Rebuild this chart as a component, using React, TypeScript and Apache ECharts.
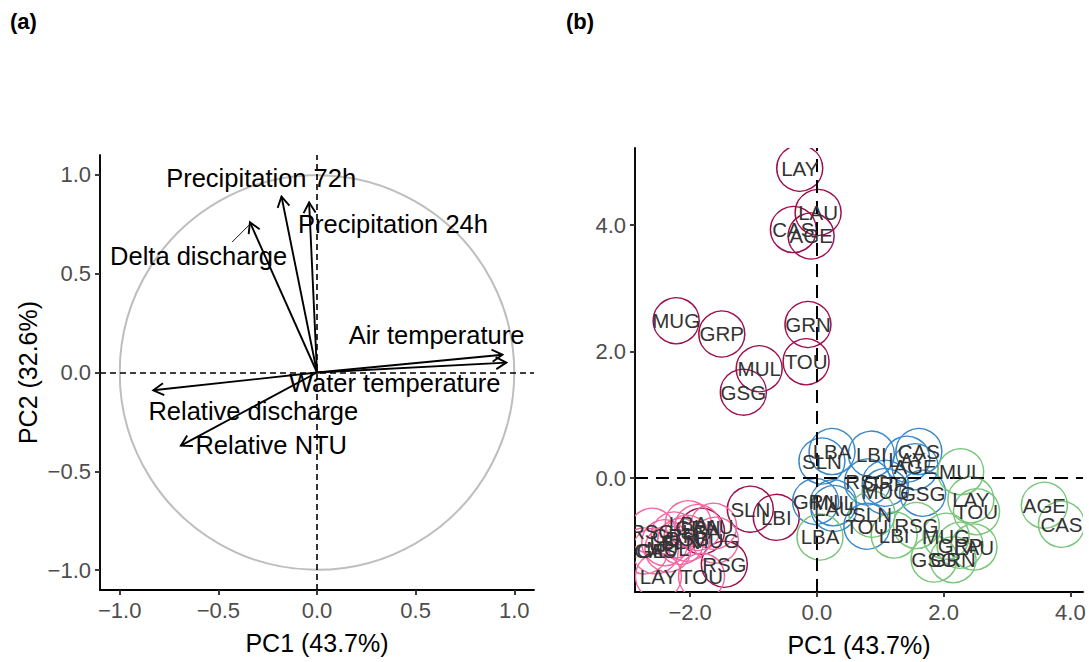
import React, { useEffect, useRef } from 'react';
import * as echarts from 'echarts';

const FONT = '"Liberation Sans", Arial, Helvetica, sans-serif';

// ---------- Panel (a): variable loadings ----------
const varNames = [
  'Precipitation 72h',
  'Precipitation 24h',
  'Delta discharge',
  'Air temperature',
  'Water temperature',
  'Relative discharge',
  'Relative NTU',
];
const varPC1 = [-0.18, -0.04, -0.34, 0.94, 0.96, -0.83, -0.69];
const varPC2 = [0.89, 0.86, 0.76, 0.09, 0.05, -0.09, -0.37];
// repelled label anchors (in PC units)
const varLabelPC1 = [-0.283, 0.385, -0.6, 0.606, 0.394, -0.323, -0.232];
const varLabelPC2 = [0.986, 0.75, 0.588, 0.19, -0.052, -0.193, -0.367];
// ggrepel connector for "Delta discharge"
const deltaSegPC1 = [-0.43, -0.345];
const deltaSegPC2 = [0.66, 0.745];

const ticksA = [-1, -0.5, 0, 0.5, 1];
const ticksBX = [-2, 0, 2, 4];
const ticksBY = [0, 2, 4];

// ---------- Panel (b): site scores by group ----------
const groupColors = ['#9E0F4E', '#3A88C8', '#78C679', '#F266A2'];

const sitesG1 = ['LAY', 'LAU', 'CAS', 'AGE', 'MUG', 'GRP', 'GRN', 'TOU', 'MUL', 'GSG', 'SLN', 'LBI', 'RSG', 'LBA'];
const pc1G1 = [-0.27, 0.02, -0.37, -0.09, -2.22, -1.5, -0.14, -0.17, -0.91, -1.16, -1.05, -0.64, -1.46, -1.82];
const pc2G1 = [4.9, 4.2, 3.93, 3.83, 2.49, 2.28, 2.43, 1.84, 1.73, 1.36, -0.49, -0.62, -1.36, -0.84];

const sitesG2 = ['SLN', 'LBA', 'LBI', 'CAS', 'LAY', 'AGE', 'RSG', 'GRP', 'MUG', 'GSG', 'GRN', 'MUL', 'LAU', 'TOU'];
const pc1G2 = [0.08, 0.24, 0.86, 1.61, 1.42, 1.55, 0.8, 1.08, 1.08, 1.67, -0.02, 0.26, 0.27, 0.79];
const pc2G2 = [0.27, 0.42, 0.38, 0.42, 0.3, 0.18, -0.06, -0.08, -0.21, -0.24, -0.37, -0.39, -0.48, -0.76];

const sitesG3 = ['MUL', 'LAY', 'TOU', 'AGE', 'CAS', 'LBA', 'SLN', 'LBI', 'RSG', 'MUG', 'GRP', 'LAU', 'GSG', 'GRN'];
const pc1G3 = [2.27, 2.43, 2.52, 3.59, 3.86, 0.05, 0.87, 1.22, 1.57, 2.04, 2.26, 2.48, 1.85, 2.15];
const pc2G3 = [0.1, -0.34, -0.53, -0.43, -0.73, -0.93, -0.57, -0.9, -0.75, -0.92, -1.06, -1.09, -1.28, -1.29];

const sitesG4 = ['RSG', 'LBA', 'LAU', 'GRN', 'GSG', 'MUG', 'GRP', 'AGE', 'CAS', 'MUL', 'SLN', 'LBI', 'LAY', 'TOU'];
const pc1G4 = [-2.6, -2.03, -1.63, -1.88, -2.05, -1.6, -2.25, -2.72, -2.55, -2.35, -2.15, -2.4, -2.5, -1.82];
const pc2G4 = [-0.84, -0.72, -0.76, -0.78, -0.95, -0.98, -0.9, -1.15, -1.15, -1.12, -1.0, -1.02, -1.55, -1.55];

const groups = [
  { sites: sitesG1, pc1: pc1G1, pc2: pc2G1 },
  { sites: sitesG2, pc1: pc1G2, pc2: pc2G2 },
  { sites: sitesG3, pc1: pc1G3, pc2: pc2G3 },
  { sites: sitesG4, pc1: pc1G4, pc2: pc2G4 },
];

const fmt = (v: number) => (v < 0 ? '\u2212' : '') + Math.abs(v).toFixed(1);

function makeAxis(gridIndex: number, min: number, max: number, ticks: number[], extra: any) {
  return {
    type: 'value',
    gridIndex,
    min,
    max,
    axisLine: { show: true, onZero: false, lineStyle: { color: '#000', width: 1.9 } },
    axisTick: { show: true, length: 5, customValues: ticks, lineStyle: { color: '#333', width: 1.9 } },
    axisLabel: {
      customValues: ticks,
      color: '#4D4D4D',
      fontSize: 22,
      fontFamily: FONT,
      margin: 9,
      formatter: fmt,
    },
    splitLine: { show: false },
    nameTextStyle: { color: '#000', fontSize: 25, fontFamily: FONT },
    ...extra,
  };
}

export default function App() {
  const ref = useRef<HTMLDivElement>(null);

  useEffect(() => {
    if (!ref.current) return;
    const chart = echarts.init(ref.current, undefined, { renderer: 'svg' });

    const pointData: any[] = [];
    groups.forEach((g, gi) => {
      g.sites.forEach((s, i) => {
        pointData.push({ value: [g.pc1[i], g.pc2[i], gi], name: s });
      });
    });

    const arrowData = varNames.map((n, i) => ({ value: [varPC1[i], varPC2[i]], name: n }));
    const labelData = varNames.map((n, i) => ({ value: [varLabelPC1[i], varLabelPC2[i]], name: n }));

    const option: any = {
      animation: false,
      textStyle: { fontFamily: FONT },
      graphic: [
        { type: 'text', left: 10, top: 10, style: { text: '(a)', font: `bold 22px ${FONT}`, fill: '#000' } },
        { type: 'text', left: 566, top: 10, style: { text: '(b)', font: `bold 22px ${FONT}`, fill: '#000' } },
      ],
      grid: [
        { left: 100, top: 155, width: 434, height: 435 },
        { left: 635, top: 148, width: 448, height: 446 },
      ],
      xAxis: [
        makeAxis(0, -1.1, 1.1, ticksA, { name: 'PC1 (43.7%)', nameLocation: 'middle', nameGap: 40 }),
        makeAxis(1, -2.87, 4.2, ticksBX, { name: 'PC1 (43.7%)', nameLocation: 'middle', nameGap: 40 }),
      ],
      yAxis: [
        makeAxis(0, -1.1, 1.1, ticksA, { name: 'PC2 (32.6%)', nameLocation: 'middle', nameGap: 60, nameRotate: 90 }),
        makeAxis(1, -1.8, 5.22, ticksBY, {}),
      ],
      series: [
        // correlation circle + reference lines
        {
          type: 'custom',
          xAxisIndex: 0,
          yAxisIndex: 0,
          silent: true,
          clip: false,
          data: [[0, 0]],
          renderItem: (params: any, api: any) => {
            const c = api.coord([0, 0]);
            const r = api.size([1, 1])[0];
            return {
              type: 'circle',
              shape: { cx: c[0], cy: c[1], r },
              style: { fill: 'none', stroke: '#BEBEBE', lineWidth: 2 },
            };
          },
          markLine: {
            silent: true,
            symbol: 'none',
            label: { show: false },
            lineStyle: { color: '#000', width: 1.6, type: [6, 4] },
            data: [{ xAxis: 0 }, { yAxis: 0 }],
          },
        },
        // arrows
        {
          type: 'custom',
          xAxisIndex: 0,
          yAxisIndex: 0,
          silent: true,
          clip: false,
          data: arrowData,
          renderItem: (params: any, api: any) => {
            const o = api.coord([0, 0]);
            const t = api.coord([api.value(0), api.value(1)]);
            const ang = Math.atan2(t[1] - o[1], t[0] - o[0]);
            const L = 12;
            const a = Math.PI / 6;
            const p1 = [t[0] - L * Math.cos(ang - a), t[1] - L * Math.sin(ang - a)];
            const p2 = [t[0] - L * Math.cos(ang + a), t[1] - L * Math.sin(ang + a)];
            return {
              type: 'group',
              children: [
                { type: 'line', shape: { x1: o[0], y1: o[1], x2: t[0], y2: t[1] }, style: { stroke: '#000', lineWidth: 1.9 } },
                { type: 'polyline', shape: { points: [p1, t, p2] }, style: { stroke: '#000', lineWidth: 1.9, fill: 'none' } },
              ],
            };
          },
        },
        // repel connector
        {
          type: 'custom',
          xAxisIndex: 0,
          yAxisIndex: 0,
          silent: true,
          clip: false,
          data: [[deltaSegPC1[0], deltaSegPC2[0], deltaSegPC1[1], deltaSegPC2[1]]],
          renderItem: (params: any, api: any) => {
            const a = api.coord([api.value(0), api.value(1)]);
            const b = api.coord([api.value(2), api.value(3)]);
            return { type: 'line', shape: { x1: a[0], y1: a[1], x2: b[0], y2: b[1] }, style: { stroke: '#000', lineWidth: 0.9 } };
          },
        },
        // variable labels
        {
          type: 'custom',
          xAxisIndex: 0,
          yAxisIndex: 0,
          silent: true,
          clip: false,
          data: labelData,
          renderItem: (params: any, api: any) => {
            const p = api.coord([api.value(0), api.value(1)]);
            return {
              type: 'text',
              x: p[0],
              y: p[1],
              style: {
                text: varNames[params.dataIndex],
                fill: '#000',
                font: `25.5px ${FONT}`,
                align: 'center',
                verticalAlign: 'middle',
              },
            };
          },
        },
        // panel b circles
        {
          type: 'custom',
          xAxisIndex: 1,
          yAxisIndex: 1,
          silent: true,
          clip: true,
          data: pointData,
          renderItem: (params: any, api: any) => {
            const p = api.coord([api.value(0), api.value(1)]);
            const gi = api.value(2);
            return {
              type: 'circle',
              shape: { cx: p[0], cy: p[1], r: 23 },
              style: { fill: 'none', stroke: groupColors[gi], lineWidth: 1.5 },
            };
          },
          markLine: {
            silent: true,
            symbol: 'none',
            label: { show: false },
            lineStyle: { color: '#000', width: 2, type: [13, 8] },
            data: [{ xAxis: 0 }, { yAxis: 0 }],
          },
        },
        // panel b labels
        {
          type: 'custom',
          xAxisIndex: 1,
          yAxisIndex: 1,
          silent: true,
          clip: true,
          z: 5,
          data: pointData,
          renderItem: (params: any, api: any) => {
            const p = api.coord([api.value(0), api.value(1)]);
            return {
              type: 'text',
              x: p[0],
              y: p[1],
              style: {
                text: pointData[params.dataIndex].name,
                fill: '#333333',
                font: `20.5px ${FONT}`,
                align: 'center',
                verticalAlign: 'middle',
              },
            };
          },
        },
      ],
    };

    chart.setOption(option);
    return () => chart.dispose();
  }, []);

  return (
    <div
      ref={ref}
      style={{ position: 'absolute', left: 0, top: 0, width: 1089, height: 662, background: '#fff' }}
    />
  );
}
